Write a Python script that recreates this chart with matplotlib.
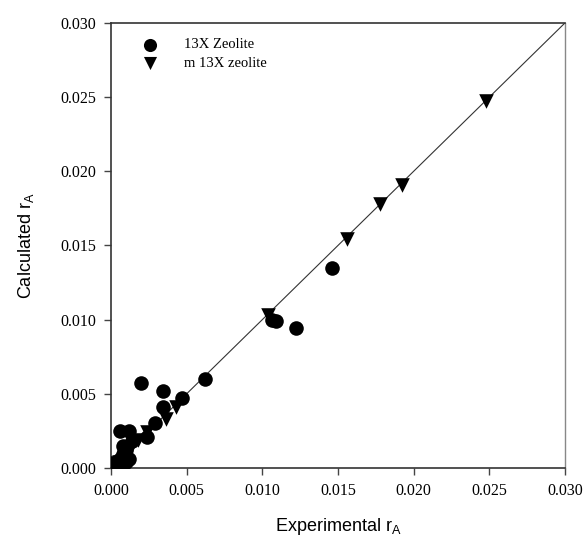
import matplotlib
matplotlib.use('Agg')
import matplotlib.pyplot as plt

# 13X Zeolite (circles)
x_zeolite = [0.0000, 0.0002, 0.0003, 0.0005, 0.0006, 0.0008, 0.0010, 0.0012,
             0.0010, 0.0008, 0.0006, 0.0012, 0.0014, 0.0024, 0.0029, 0.0020,
             0.0034, 0.0034, 0.0047, 0.0062, 0.0106, 0.0109, 0.0122, 0.0146]
y_zeolite = [0.0003, 0.0001, 0.0004, 0.0002, 0.0006, 0.0009, 0.0004, 0.0006,
             0.0012, 0.0015, 0.0025, 0.0025, 0.0018, 0.0021, 0.0030, 0.0057,
             0.0052, 0.0041, 0.0047, 0.0060, 0.0100, 0.0099, 0.0094, 0.0135]

# m 13X zeolite (triangles)
x_mod = [0.0002, 0.0005, 0.0009, 0.0013, 0.0018, 0.0024, 0.0036, 0.0043,
         0.0104, 0.0156, 0.0178, 0.0192, 0.0248]
y_mod = [0.0001, 0.0004, 0.0008, 0.0014, 0.0019, 0.0024, 0.0033, 0.0041,
         0.0103, 0.0154, 0.0178, 0.0191, 0.0247]

ticks = [0.000, 0.005, 0.010, 0.015, 0.020, 0.025, 0.030]

fig = plt.figure(figsize=(5.88, 5.44), dpi=100)
ax = fig.add_axes([0.189, 0.140, 0.772, 0.818])

ax.plot([0, 0.03], [0, 0.03], color='#333333', lw=0.8, zorder=1)
ax.scatter(x_zeolite, y_zeolite, s=110, marker='o', color='black',
           linewidths=0, zorder=3, label='13X Zeolite')
ax.scatter(x_mod, y_mod, s=110, marker='v', color='black',
           linewidths=0, zorder=3, label='m 13X zeolite')

ax.set_xlim(0, 0.03)
ax.set_ylim(0, 0.03)
ax.set_xticks(ticks)
ax.set_yticks(ticks)
ax.set_xticklabels([f'{t:.3f}' for t in ticks])
ax.set_yticklabels([f'{t:.3f}' for t in ticks])
ax.tick_params(direction='out', length=5, width=1, top=False, right=False,
               labelsize=11.5, pad=6, color='#444444')
for lab in ax.get_xticklabels() + ax.get_yticklabels():
    lab.set_family('Liberation Serif')

for side in ['left', 'bottom', 'top']:
    ax.spines[side].set_color('#333333')
    ax.spines[side].set_linewidth(1.2)
ax.spines['right'].set_color('#888888')
ax.spines['right'].set_linewidth(1.0)

ax.set_xlabel(r'Experimental r$_{\mathregular{A}}$', family='Liberation Sans',
              fontsize=13, labelpad=12)
ax.set_ylabel(r'Calculated r$_{\mathregular{A}}$', family='Liberation Sans',
              fontsize=13, labelpad=17)

ax.legend(loc='upper left', bbox_to_anchor=(0.025, 0.995), frameon=False,
          prop={'family': 'Liberation Serif', 'size': 10.5},
          handletextpad=1.3, labelspacing=0.35, markerscale=0.9)

fig.savefig('out.png', dpi=100)
